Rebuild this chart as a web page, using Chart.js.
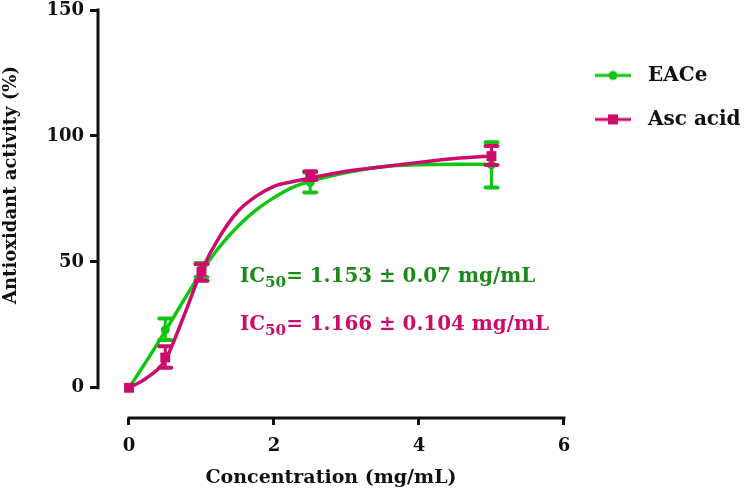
<!DOCTYPE html>
<html>
<head>
<meta charset="utf-8">
<script src="https://cdn.jsdelivr.net/npm/chart.js@4.4.1/dist/chart.umd.min.js"></script>
<style>
    html, body { margin: 0; padding: 0; background: #fff; }
</style>
</head>
<body>
<canvas id="chart" width="749" height="499"></canvas>
<script>
// measured points (mean and error bar ends)
const concentrations = [0, 0.5, 1, 2.5, 5];
const eaceMean = [0, 23, 47, 81.5, 88.5];
const eaceLow = [0, 19, 44, 77.5, 79.5];
const eaceHigh = [0, 27.5, 49.5, 85.5, 97.5];
const ascMean = [0, 12, 46, 84, 92];
const ascLow = [0, 8, 42.5, 82.5, 88.5];
const ascHigh = [0, 16.5, 49, 86, 96];

// fitted curves
const fitX = [0, 0.25, 0.5, 0.75, 1, 1.25, 1.5, 1.75, 2, 2.25, 2.5, 3, 3.5, 4, 4.5, 5];
const eaceFit = [0, 11, 22.5, 34.5, 46, 56, 64, 70.5, 75.5, 79.5, 82, 85.5, 87.8, 88.6, 88.8, 88.7];
const ascFit = [0, 4, 11, 28, 46.5, 60, 70, 76, 80, 81.8, 83.3, 86, 87.8, 89.5, 91, 92];

const xTicks = [0, 2, 4, 6];
const yTicks = [0, 50, 100, 150];

const GREEN = '#12c412';
const GREEN_TEXT = '#1b8a1b';
const MAGENTA = '#cc0c6c';
const FONT = "'DejaVu Serif', serif";

const ic50Notes = [
    { x: 1.53, y: 42, value: '= 1.153 \u00b1 0.07 mg/mL', color: GREEN_TEXT },
    { x: 1.53, y: 23, value: '= 1.166 \u00b1 0.104 mg/mL', color: MAGENTA }
];

function toXY(xs, ys) {
    return xs.map((x, i) => ({ x: x, y: ys[i] }));
}

function legendIcon(color, style) {
    const c = document.createElement('canvas');
    c.width = 36;
    c.height = 14;
    const g = c.getContext('2d');
    g.strokeStyle = color;
    g.fillStyle = color;
    g.lineWidth = 3;
    g.beginPath();
    g.moveTo(0, 7);
    g.lineTo(36, 7);
    g.stroke();
    if (style === 'circle') {
        g.beginPath();
        g.arc(18, 7, 4.5, 0, Math.PI * 2);
        g.fill();
    } else {
        g.fillRect(13, 2, 10, 10);
    }
    return c;
}

const errorBars = {
    id: 'errorBars',
    afterDatasetDraw(chart, args) {
        const ds = chart.data.datasets[args.index];
        if (!ds.errLow) return;
        const { ctx, scales: { x, y } } = chart;
        ctx.save();
        ctx.strokeStyle = ds.borderColor;
        ctx.lineCap = 'round';
        ds.data.forEach((p, i) => {
            const lo = ds.errLow[i], hi = ds.errHigh[i];
            if (lo === hi) return;
            const px = x.getPixelForValue(p.x);
            const yl = y.getPixelForValue(lo);
            const yh = y.getPixelForValue(hi);
            ctx.lineWidth = 3;
            ctx.beginPath();
            ctx.moveTo(px, yl);
            ctx.lineTo(px, yh);
            ctx.stroke();
            ctx.lineWidth = 4;
            ctx.beginPath();
            ctx.moveTo(px - 6, yl);
            ctx.lineTo(px + 6, yl);
            ctx.moveTo(px - 6, yh);
            ctx.lineTo(px + 6, yh);
            ctx.stroke();
        });
        ctx.restore();
    }
};

const axesAndText = {
    id: 'axesAndText',
    beforeDatasetsDraw(chart) {
        const { ctx, chartArea, scales: { x, y } } = chart;
        ctx.save();
        ctx.strokeStyle = '#111';
        ctx.lineWidth = 3;
        ctx.beginPath();
        ctx.moveTo(chartArea.left, y.getPixelForValue(yTicks[0]) + 1.5);
        ctx.lineTo(chartArea.left, y.getPixelForValue(yTicks[yTicks.length - 1]) - 1.5);
        ctx.moveTo(x.getPixelForValue(xTicks[0]) - 1.5, chartArea.bottom);
        ctx.lineTo(x.getPixelForValue(xTicks[xTicks.length - 1]) + 1.5, chartArea.bottom);
        ctx.stroke();

        // y axis title
        ctx.translate(11, 185);
        ctx.rotate(-Math.PI / 2);
        ctx.fillStyle = '#111';
        ctx.font = 'bold 18px ' + FONT;
        ctx.textAlign = 'center';
        ctx.textBaseline = 'middle';
        ctx.fillText('Antioxidant activity (%)', 0, 0);
        ctx.restore();
    },
    afterDraw(chart) {
        const { ctx, scales: { x, y } } = chart;
        ctx.save();
        ctx.textBaseline = 'alphabetic';
        ic50Notes.forEach(n => {
            let px = x.getPixelForValue(n.x);
            const py = y.getPixelForValue(n.y);
            ctx.fillStyle = n.color;
            ctx.font = 'bold 19.9px ' + FONT;
            ctx.fillText('IC', px, py);
            px += ctx.measureText('IC').width;
            ctx.font = 'bold 15.2px ' + FONT;
            ctx.fillText('50', px, py + 5);
            px += ctx.measureText('50').width;
            ctx.font = 'bold 19.9px ' + FONT;
            ctx.fillText(n.value, px, py);
        });
        ctx.restore();
    }
};

Chart.defaults.font.family = FONT;
Chart.defaults.font.weight = 'bold';
Chart.defaults.color = '#111';

new Chart(document.getElementById('chart'), {
    type: 'scatter',
    data: {
        datasets: [
            {
                label: 'Asc acid',
                data: toXY(concentrations, ascMean),
                errLow: ascLow,
                errHigh: ascHigh,
                borderColor: MAGENTA,
                backgroundColor: MAGENTA,
                pointStyle: 'rect',
                pointRadius: 7,
                pointBorderWidth: 0,
                showLine: false,
                order: 0
            },
            {
                label: 'Asc fit',
                data: toXY(fitX, ascFit),
                type: 'line',
                borderColor: MAGENTA,
                borderWidth: 3.5,
                pointRadius: 0,
                cubicInterpolationMode: 'monotone',
                order: 1
            },
            {
                label: 'EACe',
                data: toXY(concentrations, eaceMean),
                errLow: eaceLow,
                errHigh: eaceHigh,
                borderColor: GREEN,
                backgroundColor: GREEN,
                pointStyle: 'circle',
                pointRadius: 4.5,
                pointBorderWidth: 0,
                showLine: false,
                order: 2
            },
            {
                label: 'EACe fit',
                data: toXY(fitX, eaceFit),
                type: 'line',
                borderColor: GREEN,
                borderWidth: 3.5,
                pointRadius: 0,
                cubicInterpolationMode: 'monotone',
                order: 3
            }
        ]
    },
    options: {
        responsive: false,
        animation: false,
        devicePixelRatio: 1,
        layout: { padding: { top: 10, right: -1.6, left: 0, bottom: 0 } },
        scales: {
            x: {
                type: 'linear',
                min: -31 / 72.5,
                max: 6,
                afterBuildTicks: s => { s.ticks = xTicks.map(v => ({ value: v })); },
                afterFit: s => { s.height = 81; s.paddingLeft = 0; s.paddingRight = 0; },
                border: { display: false },
                grid: { drawOnChartArea: false, tickLength: 7, lineWidth: 3, color: '#111' },
                ticks: { padding: 11, font: { size: 18 } },
                title: {
                    display: true,
                    text: 'Concentration (mg/mL)',
                    font: { size: 19 },
                    padding: { top: 0, bottom: 10 }
                }
            },
            y: {
                type: 'linear',
                min: -12,
                max: 150,
                afterBuildTicks: s => { s.ticks = yTicks.map(v => ({ value: v })); },
                afterFit: s => { s.width = 98; s.paddingTop = 0; s.paddingBottom = 0; },
                border: { display: false },
                grid: { drawOnChartArea: false, tickLength: 8, lineWidth: 3, color: '#111' },
                ticks: { padding: 6, font: { size: 18 } }
            }
        },
        plugins: {
            tooltip: { enabled: false },
            legend: {
                position: 'right',
                align: 'start',
                title: { display: true, text: ' ', padding: { top: 17, bottom: 0 } },
                labels: {
                    usePointStyle: true,
                    pointStyleWidth: 50,
                    padding: 24,
                    font: { size: 20 },
                    generateLabels: () => [
                        { text: 'EACe', pointStyle: legendIcon(GREEN, 'circle'), fillStyle: GREEN, strokeStyle: GREEN, lineWidth: 0, fontColor: '#111', datasetIndex: 2 },
                        { text: 'Asc acid', pointStyle: legendIcon(MAGENTA, 'rect'), fillStyle: MAGENTA, strokeStyle: MAGENTA, lineWidth: 0, fontColor: '#111', datasetIndex: 0 }
                    ]
                }
            }
        }
    },
    plugins: [errorBars, axesAndText]
});
</script>
</body>
</html>
